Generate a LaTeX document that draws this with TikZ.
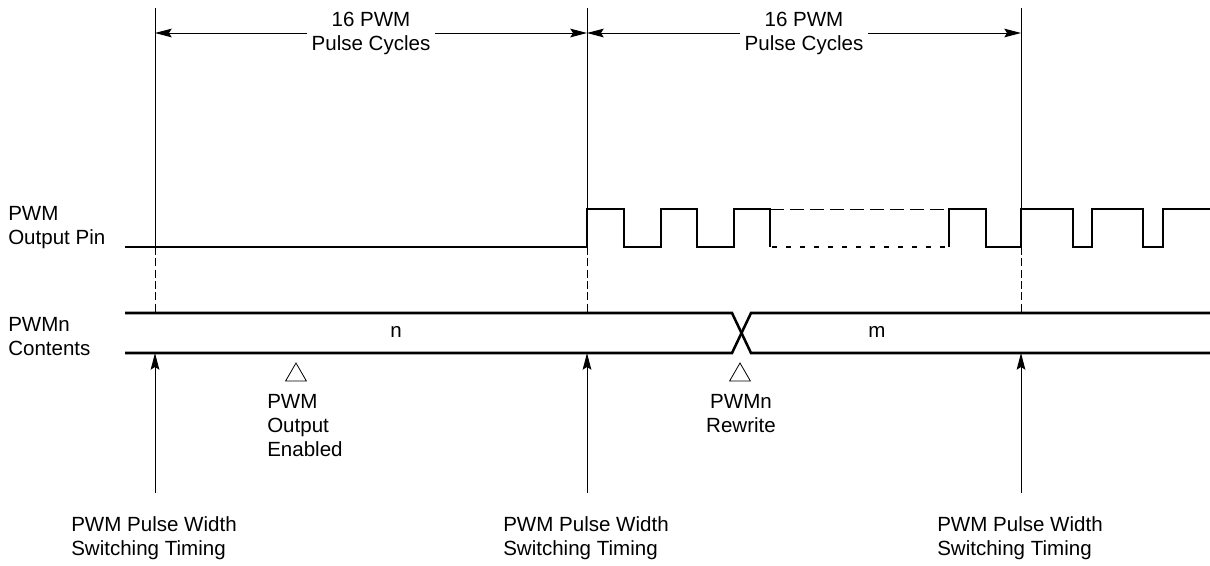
\documentclass[tikz,border=0pt]{standalone}
\usepackage{fontspec}
\setmainfont{Liberation Sans}
\usetikzlibrary{arrows.meta,shapes.geometric}
\begin{document}
\begin{tikzpicture}[x=0.75pt,y=-0.75pt,
  every node/.style={font=\fontsize{15.4pt}{18pt}\selectfont, inner sep=0pt},
  thinln/.style={line width=0.75pt},
  wave/.style={line width=1.9pt, line join=miter},
  vdash/.style={line width=0.75pt, dash pattern=on 6pt off 2.5pt},
  hdash/.style={line width=0.75pt, dash pattern=on 10.5pt off 4.5pt},
  ldash/.style={line width=1.9pt, dash pattern=on 4pt off 6.5pt},
  arr/.style={line width=0.75pt, -{Stealth[length=12.5pt,width=6.5pt,inset=2pt]}},
  marker/.style={draw, regular polygon, regular polygon sides=3, minimum size=18pt, line width=0.6pt},
  dimlbl/.style={align=center, inner xsep=3pt}]
\useasboundingbox (0,0) rectangle (1210,565);

% vertical timing lines
\foreach \n/\x in {1/155,2/587,3/1021}{
  \coordinate (top\n) at (\x,8);
  \coordinate (low\n) at (\x,247);
  \coordinate (bus\n) at (\x,313);
  \coordinate (busb\n) at (\x,353);
  \coordinate (foot\n) at (\x,493);
  \coordinate (dim\n) at (\x,33);
}
\draw[thinln] (top1) -- (low1);
\draw[thinln] (top2) -- (low2);
\draw[thinln] (top3) -- (low3);
\draw[vdash] (low1) -- (bus1);
\draw[vdash] (low2) -- (bus2);
\draw[vdash] (low3) -- (bus3);

% dimension arrows
\node[dimlbl] (d1) at (371,33) {16 PWM\\Pulse Cycles};
\node[dimlbl] (d2) at (804,33) {16 PWM\\Pulse Cycles};
\draw[arr] (d1.west |- dim1) -- (dim1);
\draw[arr] (d1.east |- dim1) -- (dim2);
\draw[arr] (d2.west |- dim2) -- (dim2);
\draw[arr] (d2.east |- dim2) -- (dim3);

% left labels
\node[anchor=west, align=left] (lpin) at (8,228) {PWM\\Output Pin};
\node[anchor=west, align=left] (lcont) at (8,337) {PWMn\\Contents};

% PWM output waveform
\draw[wave] (125,247) -- (587,247) -- (587,209) -- (624,209) -- (624,247)
  -- (661,247) -- (661,209) -- (697,209) -- (697,247)
  -- (734,247) -- (734,209) -- (770,209) -- (770,247);
\draw[hdash] (770,209) -- (949,209);
\draw[ldash] (772,247) -- (949,247);
\draw[wave] (949,247) -- (949,209) -- (986,209) -- (986,247)
  -- (1021,247) -- (1021,209) -- (1073,209) -- (1073,247)
  -- (1092,247) -- (1092,209) -- (1143,209) -- (1143,247)
  -- (1163,247) -- (1163,209) -- (1210,209);

% PWMn contents bus
\draw[wave] (125,313) -- (732,313) -- (751,353) -- (1210,353);
\draw[wave] (125,353) -- (732,353) -- (751,313) -- (1210,313);
\node (vn) at (396,332) {n};
\node (vm) at (877,332) {m};

% markers
\node[marker] (tri1) at (296,375) {};
\node[marker] (tri2) at (740,375) {};
\node[anchor=west, align=left] (lena) at (267,426) {PWM\\Output\\Enabled};
\node[align=center] (lrew) at (741,414) {PWMn\\Rewrite};

% switching timing arrows
\draw[arr] (foot1) -- (busb1);
\draw[arr] (foot2) -- (busb2);
\draw[arr] (foot3) -- (busb3);
\node[anchor=west, align=left] (s1) at (71,538) {PWM Pulse Width\\Switching Timing};
\node[anchor=west, align=left] (s2) at (503,538) {PWM Pulse Width\\Switching Timing};
\node[anchor=west, align=left] (s3) at (937,538) {PWM Pulse Width\\Switching Timing};
\end{tikzpicture}
\end{document}
